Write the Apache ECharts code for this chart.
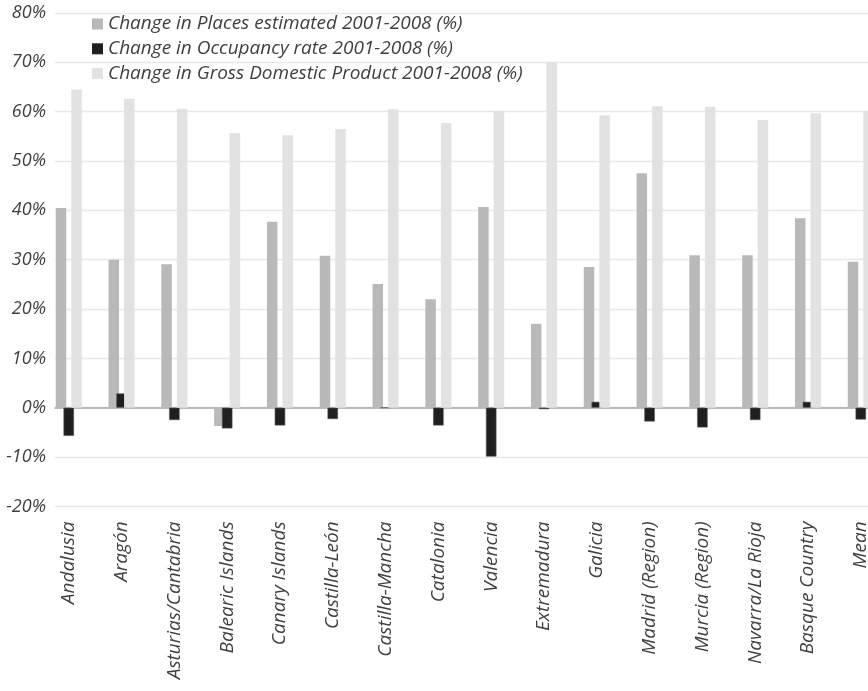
<!DOCTYPE html>
<html>
<head>
<meta charset="utf-8">
<script src="https://cdn.jsdelivr.net/npm/echarts@6/dist/echarts.min.js"></script>
<style>
  html, body { margin: 0; padding: 0; background: #ffffff; }
  #chart { width: 868px; height: 691px; }
</style>
</head>
<body>
<div id="chart"></div>
<script>
// Spanish regions, 2001-2008 change (%)
const regions = [
  'Andalusia', 'Aragón', 'Asturias/Cantabria', 'Balearic Islands', 'Canary Islands',
  'Castilla-León', 'Castilla-Mancha', 'Catalonia', 'Valencia', 'Extremadura',
  'Galicia', 'Madrid (Region)', 'Murcia (Region)', 'Navarra/La Rioja', 'Basque Country', 'Mean'
];
const placesChange = [40.5, 30.0, 29.1, -3.7, 37.7, 30.8, 25.1, 22.0, 40.7, 17.0, 28.5, 47.5, 30.9, 30.9, 38.4, 29.6];
const occupancyChange = [-5.7, 2.9, -2.5, -4.2, -3.6, -2.3, 0.0, -3.6, -9.9, -0.3, 1.2, -2.8, -4.0, -2.5, 1.2, -2.4];
const gdpChange = [64.5, 62.6, 60.6, 55.7, 55.2, 56.5, 60.5, 57.7, 60.1, 70.0, 59.3, 61.1, 61.0, 58.3, 59.7, 60.1];

const seriesNames = [
  'Change in Places estimated 2001-2008 (%)',
  'Change in Occupancy rate 2001-2008 (%)',
  'Change in Gross Domestic Product 2001-2008 (%)'
];
const yTicks = { min: -20, max: 80, step: 10 };

const textColor = '#404040';
const fontFamily = '"Open Sans", "Noto Sans", sans-serif';

const chart = echarts.init(document.getElementById('chart'));

const plotTop = 13;
const plotBottom = 184.6;

chart.setOption({
  animation: false,
  backgroundColor: '#ffffff',
  legend: {
    orient: 'vertical',
    left: 92,
    top: 14,
    padding: 0,
    itemWidth: 11,
    itemHeight: 11,
    itemGap: 4.8,
    icon: 'rect',
    itemStyle: { borderWidth: 0 },
    textStyle: { color: textColor, fontSize: 19, fontStyle: 'italic', fontFamily: fontFamily, lineHeight: 20 },
    data: seriesNames
  },
  grid: [
    // bars and category labels
    { left: 42.35, right: -19.2, top: plotTop, bottom: plotBottom, containLabel: false, outerBoundsMode: 'none' },
    // gridlines, value labels and the zero line
    { left: 55, right: -19.2, top: plotTop, bottom: plotBottom, containLabel: false, outerBoundsMode: 'none' }
  ],
  xAxis: [
    {
      gridIndex: 0,
      type: 'category',
      data: regions,
      position: 'bottom',
      axisLine: { show: false },
      axisTick: { show: false },
      axisLabel: {
        rotate: 90,
        margin: 15,
        color: textColor,
        fontSize: 19,
        fontStyle: 'italic',
        fontFamily: fontFamily,
        interval: 0
      },
      splitLine: { show: false }
    },
    {
      gridIndex: 1,
      type: 'category',
      data: regions,
      axisLine: { show: true, onZero: true, lineStyle: { color: '#a8a8a8', width: 1.5 } },
      axisTick: { show: false },
      axisLabel: { show: false },
      splitLine: { show: false }
    }
  ],
  yAxis: [
    {
      gridIndex: 0,
      type: 'value',
      min: yTicks.min,
      max: yTicks.max,
      interval: yTicks.step,
      axisLine: { show: false },
      axisTick: { show: false },
      axisLabel: { show: false },
      splitLine: { show: false }
    },
    {
      gridIndex: 1,
      type: 'value',
      min: yTicks.min,
      max: yTicks.max,
      interval: yTicks.step,
      axisLine: { show: false },
      axisTick: { show: false },
      axisLabel: {
        formatter: '{value}%',
        margin: 9,
        color: textColor,
        fontSize: 18,
        fontStyle: 'italic',
        fontFamily: fontFamily
      },
      splitLine: { show: true, lineStyle: { color: '#e8e8e8', width: 1.3 } }
    }
  ],
  series: [
    {
      name: seriesNames[0],
      type: 'bar',
      xAxisIndex: 0,
      yAxisIndex: 0,
      data: placesChange,
      barWidth: 10.5,
      barGap: '-26%',
      itemStyle: { color: '#b9b9b9' }
    },
    {
      name: seriesNames[1],
      type: 'bar',
      xAxisIndex: 0,
      yAxisIndex: 0,
      data: occupancyChange,
      barWidth: 10.5,
      barGap: '-26%',
      itemStyle: { color: '#1f1f1f', borderColor: '#5a5a5a', borderWidth: 0.6 }
    },
    {
      name: seriesNames[2],
      type: 'bar',
      xAxisIndex: 0,
      yAxisIndex: 0,
      data: gdpChange,
      barWidth: 10.5,
      barGap: '-26%',
      itemStyle: { color: '#e2e2e2' }
    }
  ]
});
</script>
</body>
</html>
